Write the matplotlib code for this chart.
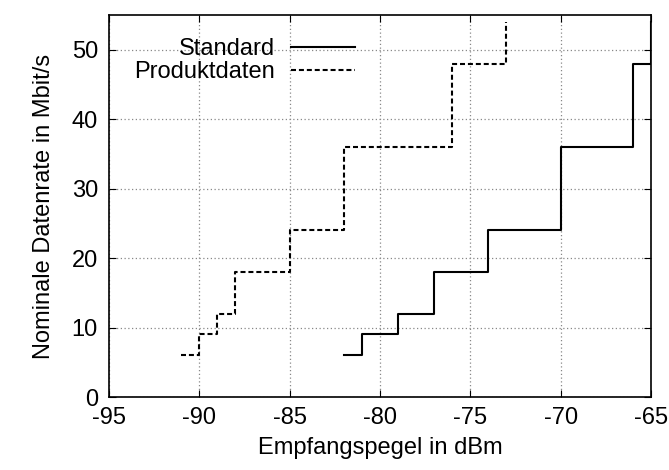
import matplotlib.pyplot as plt

plt.rcParams['font.family'] = ['Liberation Sans', 'DejaVu Sans']
plt.rcParams['axes.unicode_minus'] = False

# Empfangspegel (dBm) und Datenrate (Mbit/s)
std_pegel = [-82, -81, -79, -77, -74, -70, -66, -65]
std_rate = [6, 9, 12, 18, 24, 36, 48, 54]

prod_pegel = [-91, -90, -89, -88, -85, -82, -76, -73]
prod_rate = [6, 9, 12, 18, 24, 36, 48, 54]

x_ticks = [-95, -90, -85, -80, -75, -70, -65]
y_ticks = [0, 10, 20, 30, 40, 50]

fig = plt.figure(figsize=(6.69, 4.70), dpi=100)
ax = fig.add_axes([109 / 669, 1 - 397 / 470, 542 / 669, 382 / 470])

ax.plot(std_pegel, std_rate, drawstyle='steps-post', color='black',
        linewidth=1.5, label='Standard')
ax.plot(prod_pegel, prod_rate, drawstyle='steps-post', color='black',
        linewidth=1.5, linestyle=(0, (2.4, 1.4)), label='Produktdaten')

ax.set_xlim(-95, -65)
ax.set_ylim(0, 55)
ax.set_xticks(x_ticks)
ax.set_yticks(y_ticks)
ax.grid(True, color='#888888', linestyle=(0, (1, 2)), linewidth=0.9)
ax.tick_params(direction='in', top=True, right=True, length=5,
               labelsize=17, pad=7)
ax.tick_params(axis='y', pad=8)
for s in ax.spines.values():
    s.set_linewidth(1.2)

ax.set_xlabel('Empfangspegel in dBm', fontsize=17, labelpad=6)
ax.set_ylabel('Nominale Datenrate in Mbit/s', fontsize=17, labelpad=12)

leg = ax.legend(loc='upper right', frameon=False, markerfirst=False,
                fontsize=17, handlelength=2.7, handletextpad=0.7,
                labelspacing=0.05, borderaxespad=0, borderpad=0,
                bbox_to_anchor=(355 / 669, 1 - 38 / 470),
                bbox_transform=fig.transFigure)

fig.savefig('out.png', dpi=100)
